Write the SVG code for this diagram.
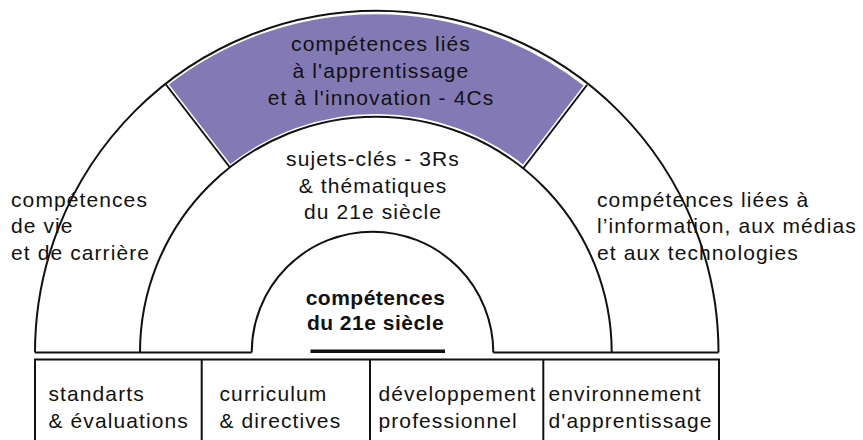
<svg xmlns="http://www.w3.org/2000/svg" width="863" height="440" viewBox="0 0 863 440">
  <style>
    .t { font-family: "Liberation Sans", Arial, sans-serif; font-size: 21px; letter-spacing: 1.1px; fill: #111; }
    .b { font-family: "Liberation Sans", Arial, sans-serif; font-size: 21px; font-weight: bold; letter-spacing: 0.5px; fill: #111; }
    .c { text-anchor: middle; }
    .ln { fill: none; stroke: #111; stroke-width: 2; }
  </style>
  <rect width="863" height="440" fill="#fff"/>

  <g id="apprentissage-innovation">
    <path d="M 165.5 84 A 341.75 341.75 0 0 1 587 85 L 523.5 168 A 235.85 235.85 0 0 0 230 167.5 Z" fill="#837AB5" stroke="#fff" stroke-width="5" stroke-linejoin="miter"/>
    <text class="t c" x="381" y="51">compétences liés</text>
    <text class="t c" x="381" y="78">à l'apprentissage</text>
    <text class="t c" x="381" y="104.5">et à l'innovation - 4Cs</text>
  </g>

  <g id="arches">
    <path class="ln" d="M 35 352.5 A 341.75 341.75 0 0 1 718.5 352.5"/>
    <path class="ln" d="M 140 352.5 A 235.85 235.85 0 0 1 611.7 352.5"/>
    <path class="ln" d="M 251.7 352.5 A 120.8 120.8 0 0 1 493.3 352.5"/>
    <path class="ln" d="M 35 352.5 H 251.7 M 493.3 352.5 H 718.5"/>
  </g>

  <g id="connectors">
    <path class="ln" d="M 165.5 84 L 230 167.5"/>
    <path class="ln" d="M 587 85 L 523.5 168"/>
  </g>

  <g id="vie-carriere">
    <text class="t" x="11" y="206.5">compétences</text>
    <text class="t" x="11" y="233">de vie</text>
    <text class="t" x="11" y="259.5">et de carrière</text>
  </g>

  <g id="information-medias">
    <text class="t" x="597" y="206.5">compétences liées à</text>
    <text class="t" x="597" y="233">l’information, aux médias</text>
    <text class="t" x="597" y="259.5">et aux technologies</text>
  </g>

  <g id="sujets-cles">
    <text class="t c" x="373" y="166">sujets-clés - 3Rs</text>
    <text class="t c" x="373" y="192.5">&amp; thématiques</text>
    <text class="t c" x="373" y="218.5">du 21e siècle</text>
  </g>

  <g id="competences-21e">
    <text class="b c" x="375.5" y="305">compétences</text>
    <text class="b c" x="375.5" y="330">du 21e siècle</text>
    <rect x="310.5" y="349.5" width="134.5" height="3.5" fill="#111"/>
  </g>

  <g id="supports">
    <path class="ln" d="M 35 441 V 359.5 H 719 V 441 M 201.7 359.5 V 441 M 370 359.5 V 441 M 543.3 359.5 V 441"/>
  </g>
  <g id="standarts">
    <text class="t" x="48.5" y="401">standarts</text>
    <text class="t" x="48.5" y="427.5">&amp; évaluations</text>
  </g>
  <g id="curriculum">
    <text class="t" x="219.5" y="401">curriculum</text>
    <text class="t" x="219.5" y="427.5">&amp; directives</text>
  </g>
  <g id="developpement">
    <text class="t" x="378.5" y="401">développement</text>
    <text class="t" x="378.5" y="427.5">professionnel</text>
  </g>
  <g id="environnement">
    <text class="t" x="548.5" y="401">environnement</text>
    <text class="t" x="548.5" y="427.5">d'apprentissage</text>
  </g>
</svg>
